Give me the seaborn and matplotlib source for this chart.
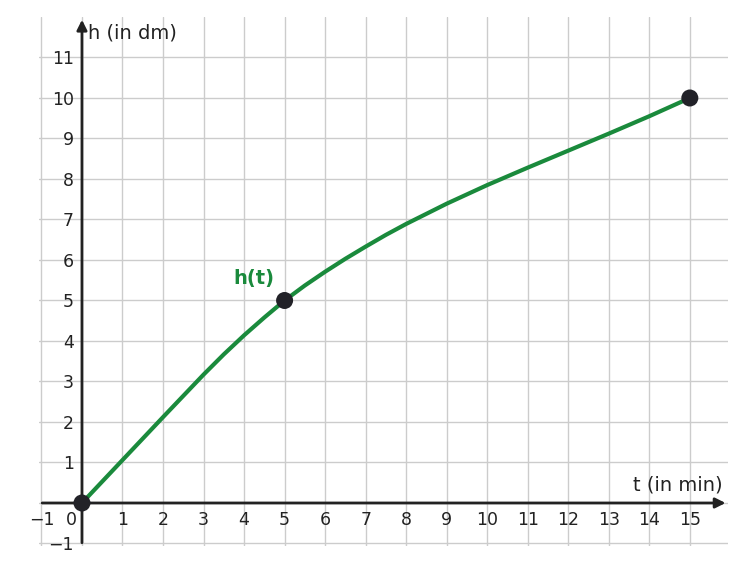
import matplotlib
matplotlib.use("Agg")
import matplotlib.pyplot as plt
import seaborn as sns
import pandas as pd

t_vals = [0, 1, 2, 3, 3.5, 4, 4.5, 5, 5.5, 6, 6.5, 7, 7.5, 8, 9, 10, 11, 12, 13, 14, 15]
h_vals = [0, 1.06, 2.12, 3.17, 3.67, 4.14, 4.58, 5.0, 5.37, 5.71, 6.03, 6.33, 6.62, 6.89, 7.39, 7.85, 8.28, 8.7, 9.12, 9.55, 10.0]
pt_t = [0, 5, 15]
pt_h = [0, 5, 10]
xticks = list(range(-1, 16))
yticks = [-1] + list(range(1, 12))

sns.set_theme(style="white")
plt.rcParams['font.family'] = ['DejaVu Sans']
fig = plt.figure(figsize=(7.48, 5.72), dpi=100)
ax = fig.add_axes([0.0527, 0.0463, 0.921, 0.924])
ax.set_xlim(-1.05, 15.95)
ax.set_ylim(-1.05, 12.0)
for x in range(-1, 16):
    ax.axvline(x, color="#cccccc", lw=1, zorder=0)
for y in range(-1, 12):
    ax.axhline(y, color="#cccccc", lw=1, zorder=0)

df = pd.DataFrame({"t": t_vals, "h": h_vals})
sns.lineplot(data=df, x="t", y="h", ax=ax, color="#1a8a3c", lw=3, zorder=3)
sns.scatterplot(x=pt_t, y=pt_h, ax=ax, color="#222228", s=150, zorder=4, edgecolor="none")

for s in ["top", "right", "left", "bottom"]:
    ax.spines[s].set_visible(False)
ax.spines["left"].set_position(("data", 0))
ax.spines["bottom"].set_position(("data", 0))
ax.annotate("", xy=(15.95, 0), xytext=(-1.05, 0),
            arrowprops=dict(arrowstyle="-|>", color="#222", lw=2, mutation_scale=15), zorder=2)
ax.annotate("", xy=(0, 12.0), xytext=(0, -1.05),
            arrowprops=dict(arrowstyle="-|>", color="#222", lw=2, mutation_scale=15), zorder=2)

ax.set_xticks([v for v in xticks if v != 0])
ax.set_yticks(yticks)
ax.set_xticklabels(["\u22121"] + [str(v) for v in xticks if v > 0])
ax.set_yticklabels(["\u22121"] + [str(v) for v in yticks if v > 0])
ax.tick_params(axis="both", colors="#222", labelsize=12.5, length=5, width=1.2, direction="inout")
ax.text(-0.12, -0.2, "0", ha="right", va="top", fontsize=12.5, color="#222")
ax.set_xlabel(""); ax.set_ylabel("")
ax.text(15.8, 0.2, "t (in min)", ha="right", va="bottom", fontsize=14, color="#222")
ax.text(0.15, 11.6, "h (in dm)", ha="left", va="center", fontsize=14, color="#222")
ax.text(4.75, 5.3, "h(t)", ha="right", va="bottom", fontsize=14, color="#1a8a3c", fontweight="bold")
fig.savefig("out.png", dpi=100)
